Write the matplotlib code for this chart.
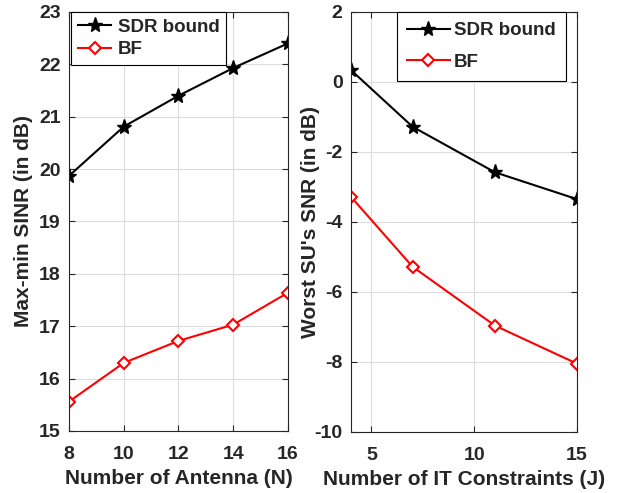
import matplotlib.pyplot as plt

# データ
antennas = [8, 10, 12, 14, 16]
sdr_antenna = [19.87, 20.81, 21.40, 21.93, 22.40]
bf_antenna = [15.56, 16.30, 16.72, 17.03, 17.64]

constraints = [4, 7, 11, 15]
sdr_constr = [0.34, -1.28, -2.58, -3.35]
bf_constr = [-3.28, -5.28, -6.96, -8.05]

left_xticks = [8, 10, 12, 14, 16]
left_yticks = [15, 16, 17, 18, 19, 20, 21, 22, 23]
right_xticks = [5, 10, 15]
right_yticks = [-10, -8, -6, -4, -2, 0, 2]

plt.rcParams["font.family"] = ["Liberation Sans", "DejaVu Sans"]
plt.rcParams["font.weight"] = "bold"
plt.rcParams["xtick.direction"] = "in"
plt.rcParams["ytick.direction"] = "in"

fig = plt.figure(figsize=(6.3, 4.93), dpi=100)
ax1 = fig.add_axes([0.1095, 0.1258, 0.3476, 0.85])
ax2 = fig.add_axes([0.557, 0.1238, 0.359, 0.852])

TXT = "#262626"


def style(ax, xt, yt):
    ax.set_xticks(xt, [str(v) for v in xt], fontsize=14, fontweight="bold", color=TXT)
    ax.set_yticks(yt, [str(v) for v in yt], fontsize=14, fontweight="bold", color=TXT)
    ax.grid(True, color="#dddddd", lw=0.8)
    ax.set_axisbelow(True)
    for s in ax.spines.values():
        s.set_color(TXT)
        s.set_linewidth(0.8)
    ax.tick_params(top=True, right=True, colors=TXT, length=4, width=0.8)
    ax.tick_params(axis="x", pad=11)
    ax.tick_params(axis="y", pad=6)


def legend(ax, anchor, loc, pad, spacing, hl, htp):
    leg = ax.legend(loc=loc, bbox_to_anchor=anchor, fontsize=13.5,
                    fancybox=False, edgecolor="black", framealpha=1,
                    handlelength=hl, handletextpad=htp, borderpad=pad,
                    labelspacing=spacing, borderaxespad=0)
    leg.get_frame().set_linewidth(0.8)
    for t in leg.get_texts():
        t.set_color(TXT)


# 左図
ax1.plot(antennas, sdr_antenna, "k-", marker="*", ms=11, lw=1.5, label="SDR bound")
ax1.plot(antennas, bf_antenna, "r-", marker="D", ms=6, mfc="white", mew=1.5, lw=1.5, label="BF")
ax1.set_xlim(8, 16)
ax1.set_ylim(15, 23)
ax1.set_xlabel("Number of Antenna (N)", fontsize=15, fontweight="bold", color=TXT, labelpad=4)
ax1.set_ylabel("Max-min SINR (in dB)", fontsize=15, fontweight="bold", color=TXT)
ax1.yaxis.set_label_coords(-0.165, 0.5)
style(ax1, left_xticks, left_yticks)
legend(ax1, (0.01, 1.0), "upper left", 0.35, 0.3, 1.8, 0.35)

# 右図
ax2.plot(constraints, sdr_constr, "k-", marker="*", ms=11, lw=1.5, label="SDR bound")
ax2.plot(constraints, bf_constr, "r-", marker="D", ms=6, mfc="white", mew=1.5, lw=1.5, label="BF")
ax2.set_xlim(4, 15)
ax2.set_ylim(-10, 2)
ax2.set_xlabel("Number of IT Constraints (J)", fontsize=15, fontweight="bold", color=TXT, labelpad=4)
ax2.set_ylabel("Worst SU's SNR (in dB)", fontsize=15, fontweight="bold", color=TXT)
ax2.yaxis.set_label_coords(-0.135, 0.5)
style(ax2, right_xticks, right_yticks)
legend(ax2, (0.95, 1.0), "upper right", 0.55, 0.75, 2.3, 0.2)

fig.savefig("out.png", dpi=100)
